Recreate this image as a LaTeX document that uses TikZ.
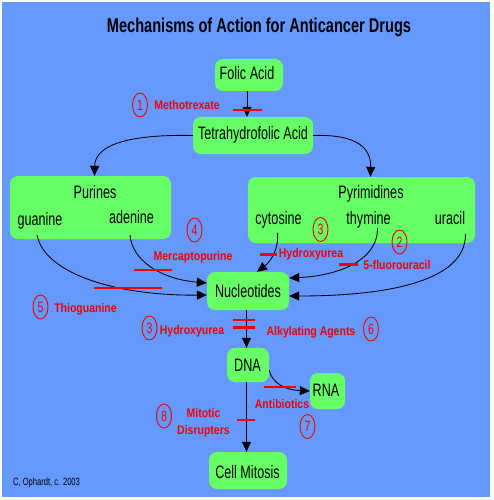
\documentclass[tikz,border=0pt]{standalone}
\usepackage{fontspec}
\setmainfont{Liberation Sans}
\newfontfamily\titlefont[FakeStretch=0.73]{Liberation Sans}
\newfontfamily\nodefont[FakeStretch=0.70]{Liberation Sans}
\newfontfamily\redfont[FakeStretch=0.84]{Liberation Sans}
\newfontfamily\smallfont[FakeStretch=0.72]{Liberation Sans}
\usetikzlibrary{arrows.meta,shapes.geometric}
\definecolor{bgblue}{HTML}{6699FF}
\definecolor{boxgreen}{HTML}{66FF66}
\definecolor{labred}{HTML}{F00000}
\tikzset{
  box/.style={fill=boxgreen, rounded corners=8pt, inner sep=0pt},
  btext/.style={anchor=base, inner sep=0pt, text=black, font=\nodefont\fontsize{18}{20}\selectfont},
  lab/.style={anchor=base, inner sep=0pt, text=labred, font=\redfont\bfseries\fontsize{12.5}{14}\selectfont},
  num/.style={ellipse, draw=labred, line width=0.9pt, minimum width=15pt, minimum height=24pt, inner sep=0pt, text=labred, font=\nodefont\fontsize{15}{15}\selectfont},
  bar/.style={draw=labred, line width=2.6pt},
  arr/.style={draw=black, line width=0.85pt, -{Triangle[length=10pt,width=9pt]}},
}
\begin{document}
\begin{tikzpicture}[x=1pt,y=-1pt]
\useasboundingbox (0,0) rectangle (494,500);
\fill[white] (0,0) rectangle (494,500);
\fill[bgblue] (2,2) rectangle (490,497);

% title
\node[anchor=base, inner sep=0pt, font=\titlefont\bfseries\fontsize{20}{22}\selectfont] (title) at (259,33) {Mechanisms of Action for Anticancer Drugs};

% boxes
\node[box, minimum width=68pt, minimum height=32pt] (folic) at (249,75) {};
\node[btext] (folict) at (247,80) {Folic Acid};
\node[box, minimum width=120pt, minimum height=37pt] (tetra) at (253,135.5) {};
\node[btext] (tetrat) at (253,139.5) {Tetrahydrofolic Acid};
\node[box, minimum width=161pt, minimum height=63pt] (pur) at (90.5,207.5) {};
\node[btext] (purt) at (95,198) {Purines};
\node[btext] (gua) at (40,225) {guanine};
\node[btext] (ade) at (131.5,223) {adenine};
\node[box, minimum width=227pt, minimum height=66pt] (pyr) at (361.5,210) {};
\node[btext] (pyrt) at (371,198) {Pyrimidines};
\node[btext] (cyt) at (278.5,224) {cytosine};
\node[btext] (thy) at (368.5,224) {thymine};
\node[btext] (ura) at (450,224) {uracil};
\node[box, minimum width=82pt, minimum height=38pt] (nuc) at (248,291) {};
\node[btext] (nuct) at (248,297.5) {Nucleotides};
\node[box, minimum width=42pt, minimum height=34pt] (dna) at (248,365) {};
\node[btext] (dnat) at (247.5,371.5) {DNA};
\node[box, minimum width=35pt, minimum height=36pt] (rna) at (327.5,391) {};
\node[btext] (rnat) at (326,396.5) {RNA};
\node[box, minimum width=78pt, minimum height=37pt] (cell) at (248,470.5) {};
\node[btext] (cellt) at (247.5,478) {Cell Mitosis};

% start coordinates
\coordinate (gS) at (37,235);
\coordinate (aS) at (130,235);
\coordinate (cS) at (277.5,233);
\coordinate (tS) at (377.5,228);
\coordinate (uS) at (465.5,234);

% connectors
\draw[arr] ([xshift=-2pt]folic.south) -- ([xshift=-2pt]folic.south |- tetra.north);
\draw[arr] (tetra.west) .. controls (120,134) and (95,148) .. ([xshift=4pt]pur.north);
\draw[arr] (tetra.east) .. controls (360,134) and (371,150) .. ([xshift=9pt]pyr.north);
\draw[arr] (gS) .. controls (45,275) and (120,296) .. ([yshift=-4pt]nuc.west);
\draw[arr] (aS) .. controls (132,260) and (160,279) .. ([yshift=8pt]nuc.west);
\draw[arr] (cS) .. controls (279,250) and (270,262) .. ([xshift=9pt]nuc.north);
\draw[arr] (tS) .. controls (378,262) and (335,276) .. ([yshift=13pt]nuc.east);
\draw[arr] (uS) .. controls (466,282) and (385,296) .. ([yshift=-5pt]nuc.east);
\draw[arr] ([xshift=-1.5pt]nuc.south) -- ([xshift=-1.5pt]nuc.south |- dna.north);
\draw[arr] ([xshift=-1.5pt]dna.south) -- ([xshift=-1.5pt]dna.south |- cell.north);
\draw[arr] ([yshift=-5pt]dna.east) .. controls (272,383) and (285,390) .. (rna.west);

% inhibitor bars
\draw[bar] (233,110) -- (262,110);
\draw[bar] (134,270) -- (172,270);
\draw[bar] (94,288) -- (162,288);
\draw[bar] (260,254.5) -- (277,254.5);
\draw[bar] (339,264.5) -- (358,264.5);
\draw[bar] (233,320) -- (255,320);
\draw[bar] (233,327.5) -- (255,327.5);
\draw[bar] (264,387) -- (296,387);
\draw[bar] (237,420) -- (255,420);

% drug labels
\node[num] (n1) at (140,105) {1};
\node[lab] (l1) at (187,110) {Methotrexate};
\node[num] (n4) at (194.5,230) {4};
\node[lab] (l4) at (193,260.5) {Mercaptopurine};
\node[num] (n3a) at (320.5,229.5) {3};
\node[lab] (l3a) at (311,257) {Hydroxyurea};
\node[num] (n2) at (399.5,242) {2};
\node[lab] (l2) at (397,269) {5-fluorouracil};
\node[num] (n5) at (40.5,307) {5};
\node[lab] (l5) at (85.5,312.5) {Thioguanine};
\node[num] (n3b) at (149.5,328) {3};
\node[lab] (l3b) at (192,334) {Hydroxyurea};
\node[lab] (l6) at (311,335) {Alkylating Agents};
\node[num] (n6) at (371,329) {6};
\node[lab] (l7) at (282,408) {Antibiotics};
\node[num] (n7) at (307.5,426.5) {7};
\node[num] (n8) at (164,416) {8};
\node[lab] (l8a) at (203.5,417) {Mitotic};
\node[lab] (l8b) at (203.5,434) {Disrupters};

% credit
\node[anchor=base west, inner sep=0pt, font=\smallfont\fontsize{10.5}{12}\selectfont] (credit) at (13,485) {C, Ophardt, c. 2003};
\end{tikzpicture}
\end{document}
